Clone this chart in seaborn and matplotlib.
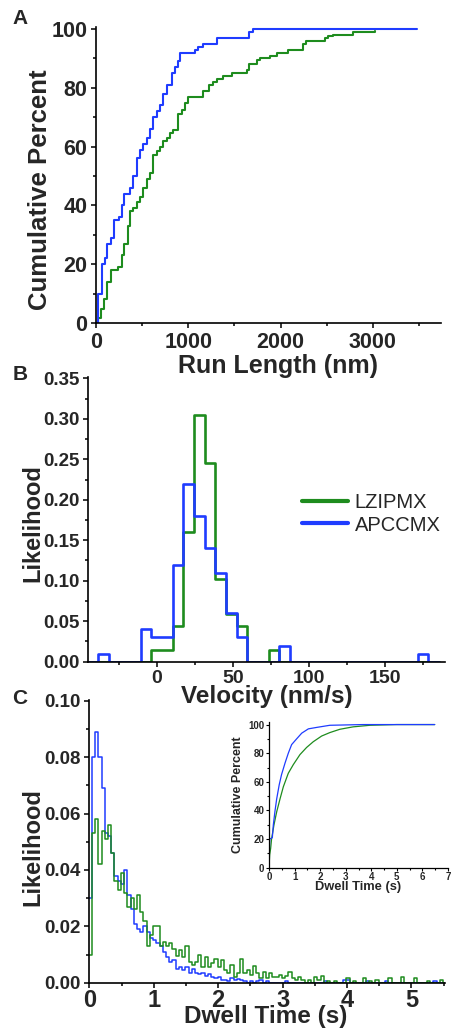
import numpy as np
import matplotlib
matplotlib.use("Agg")
import matplotlib.pyplot as plt
from matplotlib.ticker import MultipleLocator, FormatStrFormatter
import seaborn as sns

# ---------------- data ----------------
# Panel A: cumulative run-length distributions (nm, %)
run_len_apcc = [0, 18, 61, 97, 123, 162, 199, 249, 278, 303, 368, 404, 448, 477, 513, 549, 585, 614,
                657, 693, 722, 765, 819, 856, 892, 910, 1072, 1108, 1162, 1307, 1661, 1704, 3480]
run_pct_apcc = [0, 10, 20, 22, 27, 29, 35, 36, 40, 44, 46, 50, 56, 59, 61, 63, 66, 70,
                72, 74, 78, 81, 85, 87, 89, 92, 93, 94, 95, 97, 99, 100, 100]
run_len_lzip = [0, 25, 54, 90, 123, 162, 242, 278, 303, 350, 368, 404, 448, 477, 505, 549, 585, 614,
                657, 693, 722, 765, 801, 838, 892, 928, 964, 1000, 1162, 1227, 1271, 1307, 1372, 1469,
                1632, 1661, 1740, 1776, 1884, 1957, 2083, 2245, 2274, 2480, 2516, 2570, 2787, 3022]
run_pct_lzip = [0, 1.6, 4.6, 8, 14, 18, 19, 23, 27, 33, 38, 39, 41, 43, 46, 49, 51, 57,
                58.5, 60, 62, 63, 64.5, 65.6, 71, 72.5, 75, 77, 79, 81, 82, 83, 84, 85,
                86, 88, 89.5, 90, 91, 92, 93, 95, 96, 97, 97.5, 98, 99, 99.5]

# Panel B: velocity histograms (bin edges nm/s, likelihood per bin)
vel_edges = [-45.5, -38.5, -31.5, -24.5, -17.5, -10.5, -3.5, 3.5, 10.5, 17.5, 24.5, 31.5, 38.5,
             45.5, 52.5, 59.5, 66.5, 73.5, 80.5, 87.5, 94.5, 101.5, 108.5, 115.5, 122.5, 129.5,
             136.5, 143.5, 150.5, 157.5, 164.5, 171.5, 178.5, 185.5]
vel_lzip = [0, 0, 0, 0, 0, 0, 0.014, 0.014, 0.044, 0.16, 0.305, 0.246, 0.102, 0.059, 0.044, 0, 0,
            0.014, 0, 0, 0, 0, 0, 0, 0, 0, 0, 0, 0, 0, 0, 0, 0]
vel_apcc = [0, 0.01, 0, 0, 0, 0.04, 0.03, 0.03, 0.12, 0.22, 0.18, 0.14, 0.11, 0.06, 0.03, 0, 0, 0,
            0.02, 0, 0, 0, 0, 0, 0, 0, 0, 0, 0, 0, 0, 0.01, 0]

# Panel C: dwell-time histograms (first bin 0-0.04 s, then 0.05 s bins)
dwell_first_edge = 0.04
dwell_bin_width = 0.05
dwell_lzip = [0.010,
              0.053, 0.058, 0.042, 0.054, 0.051, 0.056, 0.046, 0.036, 0.033, 0.039,
              0.032, 0.027, 0.030, 0.026, 0.031, 0.025, 0.022, 0.013, 0.017, 0.020,
              0.020, 0.013, 0.0145, 0.013, 0.014, 0.012, 0.0095, 0.0115, 0.009, 0.013,
              0.0074, 0.0063, 0.0074, 0.010, 0.0057, 0.009, 0.0057, 0.0069, 0.0085, 0.0057,
              0.008, 0.0045, 0.0033, 0.0063, 0.0021, 0.0033, 0.0083, 0.0033, 0.0045, 0.0027,
              0.006, 0.0035, 0.0015, 0.0039, 0.0015, 0.0033, 0.0021, 0.002, 0.0027, 0.0015,
              0.0024, 0.0039, 0.0015, 0.001, 0.0021, 0.001, 0.0, 0.001, 0.0, 0.002,
              0.001, 0.0024, 0.0, 0.0005, 0.0, 0.0005, 0.0, 0.0, 0.0, 0.0015,
              0.0, 0.0005, 0.0, 0.0, 0.0015, 0.0, 0.0005, 0.0, 0.001, 0.0,
              0.0, 0.0, 0.0015, 0.0, 0.0, 0.0, 0.002, 0.0, 0.0, 0.0,
              0.0015, 0.0, 0.0, 0.0, 0.0005, 0.0, 0.0, 0.0, 0.001, 0.0]
dwell_apcc = [0.030,
              0.080, 0.089, 0.080, 0.069, 0.053, 0.052, 0.046, 0.038, 0.036, 0.035,
              0.040, 0.031, 0.026, 0.021, 0.019, 0.018, 0.020, 0.018, 0.016, 0.015,
              0.014, 0.013, 0.011, 0.009, 0.0074, 0.008, 0.005, 0.0057, 0.0045, 0.0057,
              0.0033, 0.005, 0.0033, 0.003, 0.0033, 0.0025, 0.003, 0.002, 0.0015, 0.002,
              0.001, 0.001, 0.0005, 0.0015, 0.001, 0.0012, 0.001, 0.0005, 0.0, 0.0005,
              0.0, 0.0005, 0.001, 0.0, 0.0005, 0.0, 0.0, 0.0, 0.0, 0.0,
              0.0005, 0.0, 0.0, 0.0, 0.0, 0.0, 0.0, 0.0, 0.0, 0.0,
              0.0, 0.0, 0.0005, 0.0, 0.0, 0.0, 0.0, 0.0, 0.0008, 0.0008,
              0.0, 0.0, 0.0, 0.0, 0.0, 0.0007, 0.0, 0.0, 0.0, 0.0,
              0.0, 0.0007, 0.0, 0.0, 0.0, 0.0, 0.0, 0.0, 0.0, 0.0,
              0.0, 0.0, 0.0, 0.0, 0.0, 0.0, 0.0007, 0.0, 0.0, 0.0]

# Inset: cumulative dwell time (s, %)
inset_t_apcc = [0, 0.01, 0.03, 0.13, 0.17, 0.23, 0.30, 0.40, 0.49, 0.625, 0.755, 0.885, 1.08, 1.28,
                1.54, 1.86, 2.38, 3.68, 6.48]
inset_p_apcc = [0, 10, 20, 21, 30, 39, 48, 58, 65, 73, 80, 86, 90, 94, 97, 98, 99.5, 100, 100]
inset_t_lzip = [0, 0.026, 0.065, 0.10, 0.195, 0.30, 0.43, 0.56, 0.755, 0.95, 1.21, 1.47, 1.73, 2.06,
                2.38, 2.77, 3.29, 3.95, 4.99, 6.48]
inset_p_lzip = [0, 9, 13.5, 20, 30, 39, 48, 56.5, 66, 72, 79, 84, 88, 92, 94.4, 96.7, 98.4, 99.5, 100, 100]

series_names = ["LZIPMX", "APCCMX"]
GREEN = "#1e8c1e"
BLUE = "#1f3cff"

# ---------------- style ----------------
sns.set_style("ticks")
plt.rcParams["font.family"] = ["Liberation Sans", "DejaVu Sans"]
plt.rcParams["font.weight"] = "bold"
plt.rcParams["axes.linewidth"] = 1.2

W, H = 451, 1028
fig = plt.figure(figsize=(W / 100, H / 100), dpi=100)


def box(left, top, right, bottom):
    return [left / W, 1 - bottom / H, (right - left) / W, (bottom - top) / H]


def style_axis(ax, xfs, yfs, majlen=3.8, minlen=2.2, width=1.1, xpad=2.5, ypad=2.5):
    sns.despine(ax=ax)
    ax.patch.set_alpha(0)
    ax.tick_params(which="major", direction="out", length=majlen, width=width, color="black")
    ax.tick_params(which="minor", direction="out", length=minlen, width=width, color="black")
    ax.tick_params(axis="x", labelsize=xfs, pad=xpad)
    ax.tick_params(axis="y", labelsize=yfs, pad=ypad)
    for lab in ax.get_xticklabels() + ax.get_yticklabels():
        lab.set_fontweight("bold")
    for s in ax.spines.values():
        s.set_color("black")


def place_label(ax, which, text, size, px, py):
    if which == "x":
        ax.set_xlabel(text, fontsize=size, fontweight="bold", va="center", ha="center")
        ax.xaxis.set_label_coords(px / W, 1 - py / H, transform=fig.transFigure)
    else:
        ax.set_ylabel(text, fontsize=size, fontweight="bold", va="center", ha="center")
        ax.yaxis.set_label_coords(px / W, 1 - py / H, transform=fig.transFigure)


# ---------------- Panel A ----------------
axA = fig.add_axes(box(96, 27, 441, 323))
sns.lineplot(x=run_len_lzip, y=run_pct_lzip, drawstyle="steps-post", color=GREEN, lw=1.5, ax=axA)
sns.lineplot(x=run_len_apcc, y=run_pct_apcc, drawstyle="steps-post", color=BLUE, lw=1.5, ax=axA)
axA.set_xlim(0, 3737)
axA.set_ylim(0, 100.7)
axA.xaxis.set_major_locator(MultipleLocator(1000))
axA.xaxis.set_minor_locator(MultipleLocator(500))
axA.yaxis.set_major_locator(MultipleLocator(20))
axA.yaxis.set_minor_locator(MultipleLocator(10))
style_axis(axA, 15.5, 15.5)
place_label(axA, "x", "Run Length (nm)", 18, 278, 366)
place_label(axA, "y", "Cumulative Percent", 18.5, 40, 190)

# ---------------- Panel B ----------------
axB = fig.add_axes(box(88, 376.7, 445, 661.7))
vel_centers = [(a + b) / 2 for a, b in zip(vel_edges[:-1], vel_edges[1:])]
sns.histplot(x=vel_centers, weights=vel_lzip, bins=vel_edges, element="step", fill=False,
             color=GREEN, lw=1.9, ax=axB, label=series_names[0])
sns.histplot(x=vel_centers, weights=vel_apcc, bins=vel_edges, element="step", fill=False,
             color=BLUE, lw=1.9, ax=axB, label=series_names[1])
axB.set_xlim(-45.1, 189.4)
axB.set_ylim(0, 0.352)
axB.xaxis.set_major_locator(MultipleLocator(50))
axB.xaxis.set_minor_locator(MultipleLocator(25))
axB.yaxis.set_major_locator(MultipleLocator(0.05))
axB.yaxis.set_minor_locator(MultipleLocator(0.025))
axB.yaxis.set_major_formatter(FormatStrFormatter("%.2f"))
style_axis(axB, 14, 13.5, xpad=2.0)
place_label(axB, "x", "Velocity (nm/s)", 17.5, 267, 696)
place_label(axB, "y", "Likelihood", 17, 33, 523)
leg = axB.legend(loc="center left", bbox_to_anchor=(288 / W, 1 - 514 / H),
                 bbox_transform=fig.transFigure, frameon=False, fontsize=14.5,
                 handlelength=2.3, handletextpad=0.3, labelspacing=0.15, borderpad=0.2)
for line in leg.get_lines():
    line.set_linewidth(3.0)
for t in leg.get_texts():
    t.set_fontweight("normal")

# ---------------- Panel C ----------------
axC = fig.add_axes(box(89.3, 699.5, 445, 982.7))
dwell_edges = [0.0] + [round(dwell_first_edge + dwell_bin_width * k, 3) for k in range(len(dwell_lzip))]
dwell_centers = [(a + b) / 2 for a, b in zip(dwell_edges[:-1], dwell_edges[1:])]
sns.histplot(x=dwell_centers, weights=dwell_apcc, bins=dwell_edges, element="step", fill=False,
             color=BLUE, lw=1.1, ax=axC)
sns.histplot(x=dwell_centers, weights=dwell_lzip, bins=dwell_edges, element="step", fill=False,
             color=GREEN, lw=1.1, ax=axC)
axC.set_xlim(0, 5.52)
axC.set_ylim(0, 0.1005)
axC.xaxis.set_major_locator(MultipleLocator(1))
axC.xaxis.set_minor_locator(MultipleLocator(0.5))
axC.yaxis.set_major_locator(MultipleLocator(0.02))
axC.yaxis.set_minor_locator(MultipleLocator(0.01))
axC.yaxis.set_major_formatter(FormatStrFormatter("%.2f"))
style_axis(axC, 17, 13.5, xpad=0.8)
place_label(axC, "x", "Dwell Time (s)", 17.5, 266, 1017)
place_label(axC, "y", "Likelihood", 17, 33, 847)

# ---------------- Inset ----------------
axI = fig.add_axes(box(269, 721.7, 448, 867.7))
sns.lineplot(x=inset_t_lzip, y=inset_p_lzip, color=GREEN, lw=0.9, ax=axI)
sns.lineplot(x=inset_t_apcc, y=inset_p_apcc, color=BLUE, lw=0.9, ax=axI)
axI.set_xlim(0, 7)
axI.set_ylim(0, 102)
axI.xaxis.set_major_locator(MultipleLocator(1))
axI.xaxis.set_minor_locator(MultipleLocator(0.5))
axI.yaxis.set_major_locator(MultipleLocator(20))
axI.yaxis.set_minor_locator(MultipleLocator(10))
style_axis(axI, 7, 7, majlen=2.2, minlen=1.3, width=0.8, xpad=1.2, ypad=1.2)
for s in axI.spines.values():
    s.set_linewidth(0.9)
place_label(axI, "x", "Dwell Time (s)", 9.3, 358, 887)
place_label(axI, "y", "Cumulative Percent", 9, 238, 795)

# panel letters
for letter, (px, py) in zip(["A", "B", "C"], [(20, 18), (20, 374), (20, 699)]):
    fig.text(px / W, 1 - py / H, letter, fontsize=15, fontweight="bold", ha="center", va="center")

fig.savefig("out.png", dpi=100)
